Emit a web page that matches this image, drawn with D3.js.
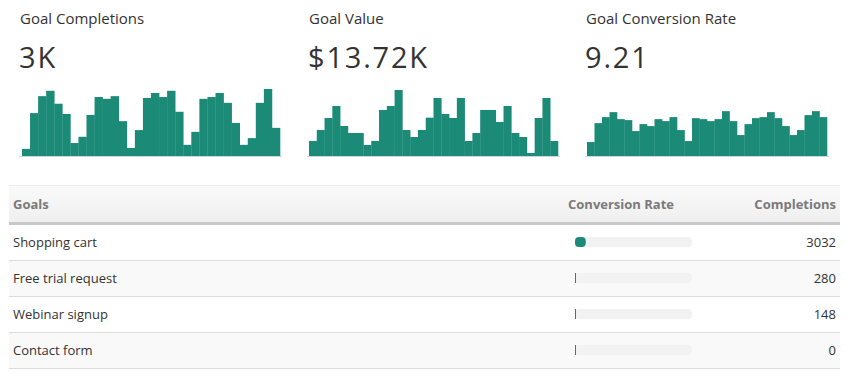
<!DOCTYPE html>
<html>
<head>
<meta charset="utf-8">
<script src="https://cdn.jsdelivr.net/npm/d3@7/dist/d3.min.js"></script>
<style>
  html, body { margin: 0; padding: 0; background: #fff; }
  svg { display: block; font-family: "Open Sans", sans-serif; }
</style>
</head>
<body>
<svg id="chart" width="854" height="381"></svg>
<script>
// ---- DATA ----
const kpiTitles = ["Goal Completions", "Goal Value", "Goal Conversion Rate"];
const kpiValues = ["3K", "$13.72K", "9.21"];
const completionsDaily = [16, 96, 134, 146, 117, 94, 29, 43, 92, 132, 128, 134, 78, 18, 58, 130,
  141, 132, 146, 99, 25, 54, 128, 132, 141, 119, 74, 25, 40, 119, 150, 63];
const valueDaily = [193, 334, 488, 642, 385, 295, 295, 141, 193, 591, 642, 847, 334, 244, 334, 492,
  745, 539, 488, 745, 193, 295, 591, 591, 437, 642, 295, 244, 39, 488, 745, 193];
const rateDaily = [3.81, 8.98, 10.62, 11.98, 10.07, 9.80, 6.81, 8.71, 8.17, 10.07, 9.53, 10.62, 7.08, 4.08, 10.34, 10.07,
  9.53, 10.07, 12.25, 9.53, 5.72, 8.71, 10.34, 10.62, 11.98, 10.34, 8.17, 5.72, 7.08, 11.16, 12.25, 10.62];
const sparkMax = [150, 860, 18.3];
const goals = ["Shopping cart", "Free trial request", "Webinar signup", "Contact form"];
const goalRates = [9.21, 0.85, 0.45, 0];
const goalCompletions = [3032, 280, 148, 0];
const columns = ["Goals", "Conversion Rate", "Completions"];

// ---- LAYOUT ----
const svg = d3.select("#chart");
const teal = "#1b8a77";
const panels = [
  { x0: 20, ax0: 19, ax1: 282, b0: 22, b1: 280, data: completionsDaily },
  { x0: 309, ax0: 307, ax1: 560, b0: 309, b1: 558, data: valueDaily },
  { x0: 586, ax0: 585, ax1: 829, b0: 587, b1: 827, data: rateDaily }
];
const sparkTop = 89, sparkBase = 156;

panels.forEach((p, i) => {
  const g = svg.append("g");
  g.append("text").attr("x", p.x0).attr("y", 24)
    .attr("font-size", 15).attr("fill", "#333").text(kpiTitles[i]);
  g.append("text").attr("x", p.x0 - 1).attr("y", 68)
    .attr("font-size", 29).attr("letter-spacing", 1.8).attr("fill", "#333").text(kpiValues[i]);

  const x = d3.scaleBand().domain(d3.range(p.data.length)).range([p.b0, p.b1]).padding(0);
  const y = d3.scaleLinear().domain([0, sparkMax[i]]).range([sparkBase, sparkTop]);
  g.selectAll("rect").data(p.data).join("rect")
    .attr("x", (d, j) => x(j))
    .attr("width", x.bandwidth() + 0.3)
    .attr("y", d => y(d))
    .attr("height", d => sparkBase - y(d))
    .attr("fill", teal);
  g.append("line").attr("x1", p.ax0).attr("x2", p.ax1)
    .attr("y1", sparkBase + 0.5).attr("y2", sparkBase + 0.5)
    .attr("stroke", "#c9d6ea").attr("stroke-width", 1);
});

// ---- TABLE ----
const tx0 = 9, tx1 = 840;
const headTop = 185, headBottom = 222, rowH = 36;
const defs = svg.append("defs");
const grad = defs.append("linearGradient").attr("id", "hg").attr("x1", 0).attr("x2", 0).attr("y1", 0).attr("y2", 1);
grad.append("stop").attr("offset", "0%").attr("stop-color", "#fafafa");
grad.append("stop").attr("offset", "100%").attr("stop-color", "#efefef");

svg.append("rect").attr("x", tx0).attr("y", headTop).attr("width", tx1 - tx0).attr("height", headBottom - headTop)
  .attr("fill", "url(#hg)");
svg.append("line").attr("x1", tx0).attr("x2", tx1).attr("y1", headTop + 0.5).attr("y2", headTop + 0.5)
  .attr("stroke", "#ebebeb");
svg.append("rect").attr("x", tx0).attr("y", headBottom).attr("width", tx1 - tx0).attr("height", 3)
  .attr("fill", "#c8c8c8");

const colX = [13, 568, 836];
const colAnchor = ["start", "start", "end"];
svg.selectAll("text.head").data(columns).join("text")
  .attr("class", "head")
  .attr("x", (d, i) => colX[i]).attr("y", 209)
  .attr("text-anchor", (d, i) => colAnchor[i])
  .attr("font-size", 13).attr("font-weight", "bold").attr("fill", "#7a7a7a")
  .text(d => d);

const rowsTop = headBottom + 3;
const rowY = d3.scaleBand().domain(d3.range(goals.length)).range([rowsTop, rowsTop + rowH * goals.length]);
const rateX = d3.scaleLinear().domain([0, 100]).range([0, 117]);

const rows = svg.selectAll("g.row").data(goals).join("g").attr("class", "row")
  .attr("transform", (d, i) => `translate(0,${rowY(i)})`);
rows.append("rect").attr("x", tx0).attr("y", 0).attr("width", tx1 - tx0).attr("height", rowH)
  .attr("fill", (d, i) => i % 2 ? "#f9f9f9" : "#ffffff");
rows.append("line").attr("x1", tx0).attr("x2", tx1).attr("y1", rowH - 0.5).attr("y2", rowH - 0.5)
  .attr("stroke", "#dcdcdc");
rows.append("text").attr("x", 13).attr("y", rowH / 2 + 4)
  .attr("font-size", 13).attr("fill", "#333").text(d => d);
rows.append("rect").attr("x", 575).attr("y", rowH / 2 - 6).attr("width", 117).attr("height", 10)
  .attr("rx", 4).attr("fill", "#f2f2f2");
rows.append("rect").attr("x", 575).attr("y", rowH / 2 - 6)
  .attr("width", (d, i) => Math.max(1, rateX(goalRates[i])))
  .attr("height", 10)
  .attr("rx", (d, i) => rateX(goalRates[i]) > 4 ? 4 : 0)
  .attr("fill", teal);
rows.append("text").attr("x", 836).attr("y", rowH / 2 + 4).attr("text-anchor", "end")
  .attr("font-size", 13).attr("fill", "#333").text((d, i) => goalCompletions[i]);
</script>
</body>
</html>
